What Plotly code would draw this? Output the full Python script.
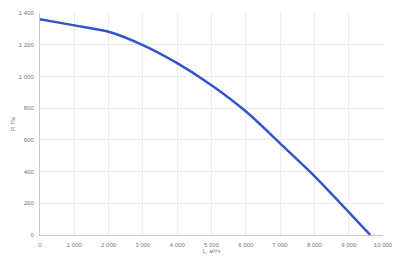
import plotly.graph_objects as go

flow = [0, 1000, 2000, 3000, 4000, 5000, 6000, 7000, 8000, 9630]
pressure = [1360, 1322, 1282, 1198, 1084, 945, 780, 578, 372, 0]

x_title = "L, м³/ч"
y_title = "P, Па"

fig = go.Figure()
fig.add_trace(go.Scatter(
    x=flow, y=pressure, mode="lines",
    line=dict(color="#3355cc", width=2.5, shape="spline", smoothing=0.8),
    hoverinfo="skip",
))

font_family = "Liberation Sans, Arial, sans-serif"
fig.update_layout(
    width=400, height=262,
    margin=dict(l=40, r=17, t=13, b=27, autoexpand=False),
    paper_bgcolor="white", plot_bgcolor="white",
    showlegend=False,
    separators=", ",
    font=dict(family=font_family, size=6, color="#777"),
    xaxis=dict(
        range=[0, 10000], dtick=1000, tickformat=",d", automargin=False,
        showgrid=True, gridcolor="#ebebeb", gridwidth=1,
        zeroline=False, showline=True, linecolor="#cccccc", linewidth=1,
        ticks="", ticklabelstandoff=4,
        title=dict(text=x_title, font=dict(size=6, color="#777"), standoff=0),
    ),
    yaxis=dict(
        range=[0, 1400], dtick=200, tickformat=",d", automargin=False,
        showgrid=True, gridcolor="#ebebeb", gridwidth=1,
        zeroline=False, showline=True, linecolor="#cccccc", linewidth=1,
        ticks="", ticklabelstandoff=4,
        title=dict(text=y_title, font=dict(size=6, color="#777"), standoff=2),
    ),
)

fig.write_html("out.html")
